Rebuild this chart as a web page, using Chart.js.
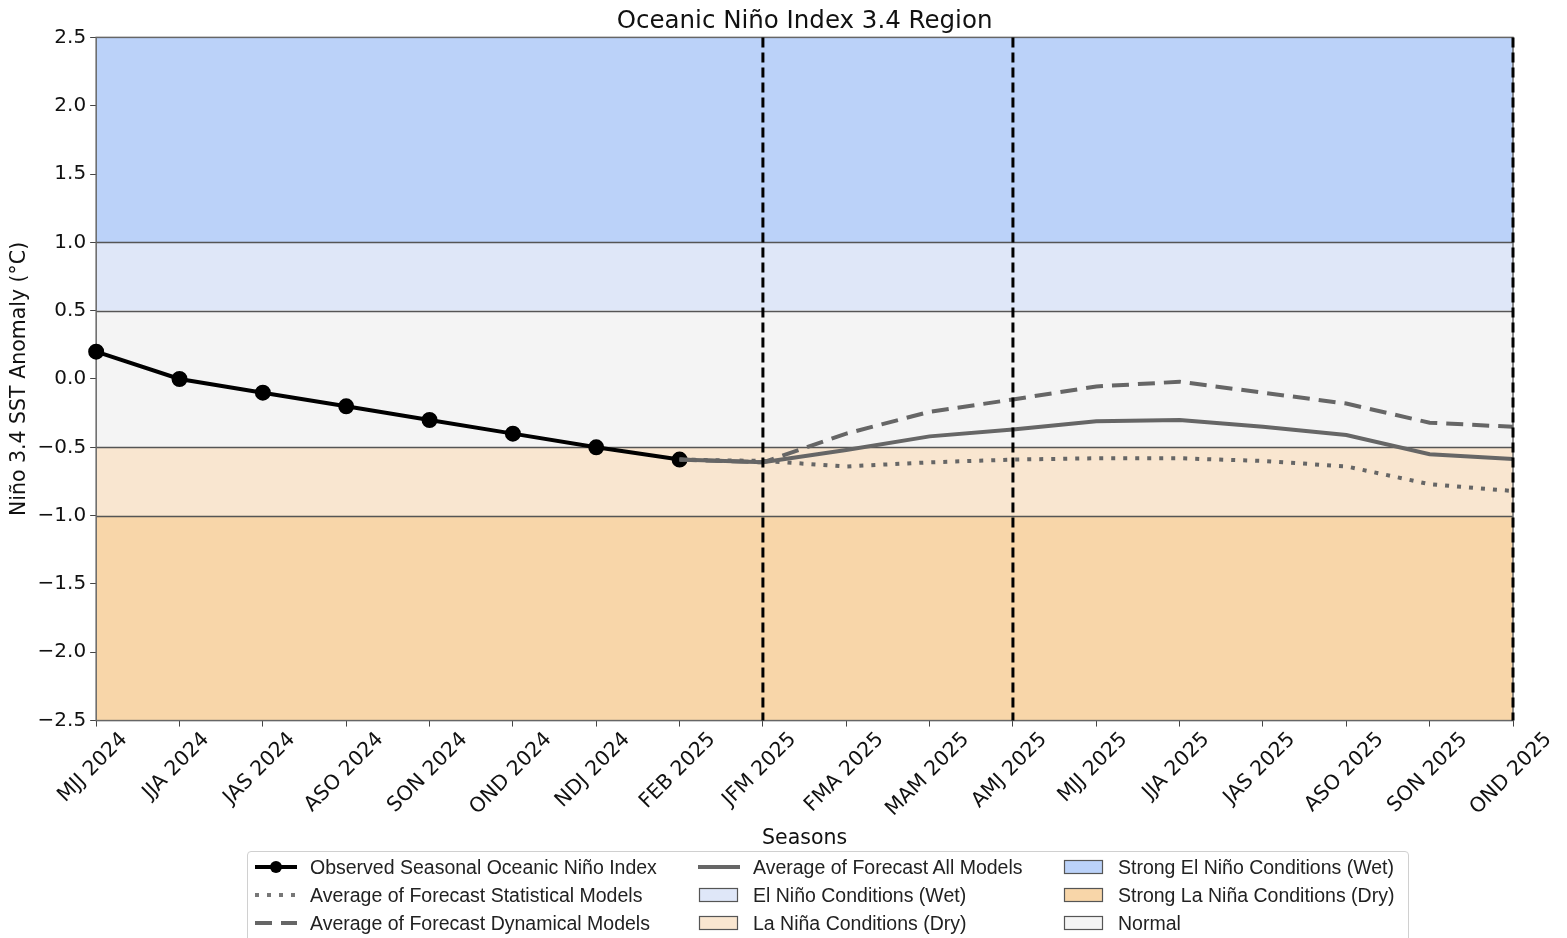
<!DOCTYPE html>
<html>
<head>
<meta charset="utf-8">
<script src="https://cdn.jsdelivr.net/npm/chart.js@4.4.1/dist/chart.umd.min.js"></script>
<style>
  html, body { margin:0; padding:0; background:#fff; }
  #wrap { position:relative; width:1567px; height:938px; overflow:hidden; }
  #c { position:absolute; left:0; top:0; }
  #legend {
    position:absolute; left:247px; top:851px; width:1162px; height:110px;
    border:1px solid #d0d0d0; border-radius:4px; box-sizing:border-box;
    font-family:"Liberation Sans", Arial, sans-serif; font-size:19.5px; color:#222;
  }
  .item { position:absolute; height:28px; line-height:28px; white-space:nowrap; }
  .item svg { position:absolute; left:0; top:4px; }
  .item span { position:absolute; left:57px; top:0; }
</style>
</head>
<body>
<div id="wrap">
  <canvas id="c" width="1567" height="855"></canvas>
  <div id="legend"></div>
</div>
<script>
// ============ 数据 ============
const SEASONS = ['MJJ 2024','JJA 2024','JAS 2024','ASO 2024','SON 2024','OND 2024','NDJ 2024','FEB 2025',
  'JFM 2025','FMA 2025','MAM 2025','AMJ 2025','MJJ 2025','JJA 2025','JAS 2025','ASO 2025','SON 2025','OND 2025'];
const OBSERVED = [0.20, 0.00, -0.10, -0.20, -0.30, -0.40, -0.50, -0.59,
  null, null, null, null, null, null, null, null, null, null];
const FC_ALL = [null, null, null, null, null, null, null, -0.59,
  -0.61, -0.52, -0.42, -0.37, -0.31, -0.30, -0.35, -0.41, -0.55, -0.585];
const FC_STAT = [null, null, null, null, null, null, null, -0.59,
  -0.60, -0.64, -0.61, -0.59, -0.58, -0.58, -0.60, -0.64, -0.77, -0.82];
const FC_DYN = [null, null, null, null, null, null, null, -0.59,
  -0.61, -0.40, -0.24, -0.15, -0.055, -0.02, -0.10, -0.18, -0.32, -0.35];
const Y_TICKS = [2.5, 2.0, 1.5, 1.0, 0.5, 0.0, -0.5, -1.0, -1.5, -2.0, -2.5];
// condition bands (lower, upper)
const BAND_LOW  = [1.0, 0.5, -0.5, -1.0, -2.5];
const BAND_HIGH = [2.5, 1.0, 0.5, -0.5, -1.0];
const BAND_NAMES = ['Strong El Niño Conditions (Wet)', 'El Niño Conditions (Wet)', 'Normal',
  'La Niña Conditions (Dry)', 'Strong La Niña Conditions (Dry)'];
const THRESHOLDS = [1.0, 0.5, -0.5, -1.0];
const MARKER_SEASONS = ['JFM 2025', 'AMJ 2025', 'OND 2025'];
const TITLE = 'Oceanic Niño Index 3.4 Region';

const BAND_COLORS = ['#bbd2f9', '#dfe7f8', '#f4f4f4', '#f9e6d0', '#f8d6a9'];
const AXIS_FONT = '"DejaVu Sans", sans-serif';
const TICK_SIZE = 20.5;

// 背景色带 + 阈值线 + 竖虚线 + 标题/刻度标签 (matplotlib 风格居中)
const bandsPlugin = {
  id: 'bands',
  beforeDatasetsDraw(chart) {
    const {ctx, chartArea: a, scales: {x, y}} = chart;
    ctx.save();
    BAND_LOW.forEach((lo, i) => {
      const top = y.getPixelForValue(BAND_HIGH[i]);
      const bot = y.getPixelForValue(lo);
      ctx.fillStyle = BAND_COLORS[i];
      ctx.fillRect(a.left, top, a.right - a.left, bot - top);
    });
    ctx.strokeStyle = '#555';
    ctx.lineWidth = 1.5;
    THRESHOLDS.forEach(v => {
      const py = Math.round(y.getPixelForValue(v)) + 0.5;
      ctx.beginPath(); ctx.moveTo(a.left, py); ctx.lineTo(a.right, py); ctx.stroke();
    });
    ctx.strokeStyle = '#666';
    ctx.lineWidth = 1.5;
    ctx.strokeRect(a.left, a.top, a.right - a.left, a.bottom - a.top);
    ctx.restore();
  },
  afterDatasetsDraw(chart) {
    const {ctx, chartArea: a, scales: {x}} = chart;
    ctx.save();
    ctx.strokeStyle = '#000';
    ctx.lineWidth = 3;
    ctx.setLineDash([10, 5]);
    MARKER_SEASONS.forEach(s => {
      const px = x.getPixelForValue(SEASONS.indexOf(s));
      ctx.beginPath(); ctx.moveTo(px, a.top); ctx.lineTo(px, a.bottom); ctx.stroke();
    });
    ctx.restore();
  },
  afterDraw(chart) {
    const {ctx, chartArea: a, scales: {x}} = chart;
    ctx.save();
    ctx.fillStyle = '#111';
    // title centred over the plot area
    ctx.font = '24.5px ' + AXIS_FONT;
    ctx.textAlign = 'center';
    ctx.textBaseline = 'middle';
    ctx.fillText(TITLE, (a.left + a.right) / 2, a.top - 16);
    // rotated tick labels, bbox centred on tick
    ctx.font = TICK_SIZE + 'px ' + AXIS_FONT;
    SEASONS.forEach((s, i) => {
      const m = ctx.measureText(s);
      const h = m.actualBoundingBoxAscent + m.actualBoundingBoxDescent;
      const bh = (m.width + h) / Math.SQRT2;
      const cx = x.getPixelForValue(i);
      const cy = a.bottom + 12 + bh / 2;
      ctx.save();
      ctx.translate(cx, cy);
      ctx.rotate(-Math.PI / 4);
      ctx.textAlign = 'center';
      ctx.textBaseline = 'alphabetic';
      ctx.fillText(s, 0, (m.actualBoundingBoxAscent - m.actualBoundingBoxDescent) / 2);
      ctx.restore();
    });
    ctx.restore();
  }
};

new Chart(document.getElementById('c'), {
  type: 'line',
  data: {
    labels: SEASONS,
    datasets: [
      {label: 'Average of Forecast Statistical Models', data: FC_STAT, borderColor: '#666', borderWidth: 4,
        borderDash: [4, 8], pointRadius: 0, tension: 0},
      {label: 'Average of Forecast Dynamical Models', data: FC_DYN, borderColor: '#666', borderWidth: 4,
        borderDash: [17, 9], pointRadius: 0, tension: 0},
      {label: 'Average of Forecast All Models', data: FC_ALL, borderColor: '#666', borderWidth: 4,
        pointRadius: 0, tension: 0},
      {label: 'Observed Seasonal Oceanic Niño Index', data: OBSERVED, borderColor: '#000', backgroundColor: '#000',
        borderWidth: 4, pointRadius: 6, pointHoverRadius: 6, tension: 0}
    ]
  },
  options: {
    responsive: false,
    animation: false,
    spanGaps: false,
    layout: {padding: {left: 7, right: 54, top: 0, bottom: 4}},
    plugins: {
      legend: {display: false},
      tooltip: {enabled: false},
      // space holder; the visible title is drawn centred on the plot area
      title: {display: true, text: TITLE, color: 'rgba(0,0,0,0)',
        font: {family: AXIS_FONT, size: 24.5, weight: 'normal'}, padding: {top: 3, bottom: 5}}
    },
    scales: {
      x: {
        offset: false,
        grid: {drawOnChartArea: false, drawTicks: true, tickLength: 6, tickColor: '#444'},
        border: {display: false},
        ticks: {color: 'rgba(0,0,0,0)', font: {family: AXIS_FONT, size: TICK_SIZE}, maxRotation: 45, minRotation: 45,
          autoSkip: false, padding: 2},
        title: {display: true, text: 'Seasons', color: '#111', font: {family: AXIS_FONT, size: 20.5},
          padding: {top: 2, bottom: 0}}
      },
      y: {
        min: -2.5, max: 2.5,
        afterBuildTicks: s => { s.ticks = Y_TICKS.map(v => ({value: v})); },
        grid: {drawOnChartArea: false, drawTicks: true, tickLength: 6, tickColor: '#444'},
        border: {display: false},
        ticks: {color: '#111', font: {family: AXIS_FONT, size: 20}, padding: 4,
          callback: v => (v < 0 ? '\u2212' : '') + Math.abs(v).toFixed(1)},
        title: {display: true, text: 'Niño 3.4 SST Anomaly (°C)', color: '#111',
          font: {family: AXIS_FONT, size: 20.5}, padding: {top: 0, bottom: 2}}
      }
    }
  },
  plugins: [bandsPlugin]
});

// ============ 图例 (3 列) ============
const LEGEND_COLS = [
  [{t: 'line', dash: '', color: '#000', marker: true, label: 'Observed Seasonal Oceanic Niño Index'},
   {t: 'line', dash: '4 8', color: '#777', label: 'Average of Forecast Statistical Models'},
   {t: 'line', dash: '17 9', color: '#666', label: 'Average of Forecast Dynamical Models'}],
  [{t: 'line', dash: '', color: '#666', label: 'Average of Forecast All Models'},
   {t: 'box', color: BAND_COLORS[1], label: BAND_NAMES[1]},
   {t: 'box', color: BAND_COLORS[3], label: BAND_NAMES[3]}],
  [{t: 'box', color: BAND_COLORS[0], label: BAND_NAMES[0]},
   {t: 'box', color: BAND_COLORS[4], label: BAND_NAMES[4]},
   {t: 'box', color: BAND_COLORS[2], label: BAND_NAMES[2]}]
];
const colX = [5, 448, 813];
const rowY = [1, 29, 57];
const lg = document.getElementById('legend');
LEGEND_COLS.forEach((col, ci) => col.forEach((it, ri) => {
  let sym;
  if (it.t === 'line') {
    sym = `<svg width="46" height="20"><line x1="2" y1="10" x2="44" y2="10" stroke="${it.color}" stroke-width="4"
      ${it.dash ? `stroke-dasharray="${it.dash}"` : ''}/>${it.marker ? '<circle cx="23" cy="10" r="6" fill="#000"/>' : ''}</svg>`;
  } else {
    sym = `<svg width="46" height="20"><rect x="3.5" y="3.5" width="38" height="13" fill="${it.color}" stroke="#555" stroke-width="1.2"/></svg>`;
  }
  lg.insertAdjacentHTML('beforeend',
    `<div class="item" style="left:${colX[ci]}px;top:${rowY[ri]}px;">${sym}<span>${it.label}</span></div>`);
}));
</script>
</body>
</html>
